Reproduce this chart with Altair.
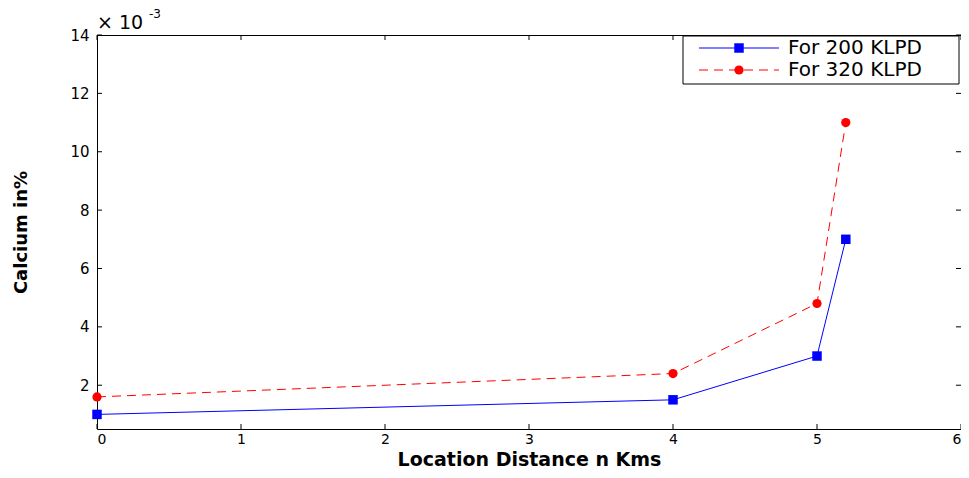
import altair as alt
import pandas as pd

# Data (values in actual units, axis shows x 10^-3)
distance = [0, 4, 5, 5.2]
klpd200 = [0.0010, 0.0015, 0.0030, 0.0070]
klpd320 = [0.0016, 0.0024, 0.0048, 0.0110]
series_names = ["For 200 KLPD", "For 320 KLPD"]
x_ticks = [0, 1, 2, 3, 4, 5, 6]
y_ticks = [0.002, 0.004, 0.006, 0.008, 0.010, 0.012, 0.014]

W, H = 864, 394
FONT = "DejaVu Sans"

df = pd.DataFrame({
    "x": distance * 2,
    "y": klpd200 + klpd320,
    "series": [series_names[0]] * len(distance) + [series_names[1]] * len(distance),
})
df_b = df[df.series == series_names[0]]
df_r = df[df.series == series_names[1]]

xs = alt.Scale(domain=[0, 6], nice=False, zero=False)
ys = alt.Scale(domain=[0.0005, 0.014], nice=False, zero=False)

x_axis = alt.Axis(values=x_ticks, format="d", ticks=False, domain=False, grid=False,
                  labelFont=FONT, labelFontSize=14, labelColor="black", labelPadding=3,
                  title="Location Distance n Kms", titleFont=FONT, titleFontSize=19,
                  titleFontWeight="bold", titleColor="black",
                  titleBaseline="alphabetic", titleY=36)
y_axis = alt.Axis(values=y_ticks, ticks=False, domain=False, grid=False,
                  labelExpr="round(datum.value*1000)",
                  labelFont=FONT, labelFontSize=15, labelColor="black", labelPadding=8,
                  title="Calcium in%", titleFont=FONT, titleFontSize=18,
                  titleFontWeight="bold", titleColor="black", titlePadding=39)

line_b = alt.Chart(df_b).mark_line(color="#0000ff", strokeWidth=1).encode(
    x=alt.X("x:Q", scale=xs, axis=x_axis),
    y=alt.Y("y:Q", scale=ys, axis=y_axis),
)
pts_b = alt.Chart(df_b).mark_point(shape="square", filled=True, color="#0000ff",
                                   size=90, opacity=1).encode(
    x=alt.X("x:Q", scale=xs), y=alt.Y("y:Q", scale=ys))
line_r = alt.Chart(df_r).mark_line(color="#ff0000", strokeWidth=1,
                                   strokeDash=[9, 6]).encode(
    x=alt.X("x:Q", scale=xs), y=alt.Y("y:Q", scale=ys))
pts_r = alt.Chart(df_r).mark_point(shape="circle", filled=True, color="#ff0000",
                                   size=85, opacity=1).encode(
    x=alt.X("x:Q", scale=xs), y=alt.Y("y:Q", scale=ys))

xt = pd.DataFrame({"t": x_ticks})
yt = pd.DataFrame({"t": y_ticks})
tick_bot = alt.Chart(xt).mark_rule(color="black", strokeWidth=1).encode(
    x=alt.X("t:Q", scale=xs), y=alt.value(H), y2=alt.value(H - 5))
tick_top = alt.Chart(xt).mark_rule(color="black", strokeWidth=1).encode(
    x=alt.X("t:Q", scale=xs), y=alt.value(0), y2=alt.value(5))
tick_left = alt.Chart(yt).mark_rule(color="black", strokeWidth=1).encode(
    y=alt.Y("t:Q", scale=ys), x=alt.value(0), x2=alt.value(5))
tick_right = alt.Chart(yt).mark_rule(color="black", strokeWidth=1).encode(
    y=alt.Y("t:Q", scale=ys), x=alt.value(W), x2=alt.value(W - 5))

one = pd.DataFrame({"a": [0]})
exp_main = alt.Chart(one).mark_text(text="× 10", font=FONT, fontSize=19, align="left",
                                    baseline="middle", color="black").encode(
    x=alt.value(0), y=alt.value(-12))
exp_sup = alt.Chart(one).mark_text(text="-3", font=FONT, fontSize=12, align="left",
                                   baseline="middle", color="black").encode(
    x=alt.value(52), y=alt.value(-21))

# Legend
lx0, lx1, ly0, ly1 = 586, 862, 1, 49
leg_box = alt.Chart(one).mark_rect(fill="white", stroke="black", strokeWidth=1).encode(
    x=alt.value(lx0), x2=alt.value(lx1), y=alt.value(ly0), y2=alt.value(ly1))
leg_layers = [leg_box]
legend_styles = [
    dict(color="#0000ff", dash=[1, 0], shape="square", yy=13, size=90),
    dict(color="#ff0000", dash=[9, 6], shape="circle", yy=35, size=85),
]
for name, st in zip(series_names, legend_styles):
    ld = pd.DataFrame({"name": [name]})
    leg_layers.append(alt.Chart(ld).mark_rule(color=st["color"], strokeWidth=1,
                                              strokeDash=st["dash"]).encode(
        x=alt.value(602), x2=alt.value(682), y=alt.value(st["yy"])))
    leg_layers.append(alt.Chart(ld).mark_point(shape=st["shape"], filled=True,
                                               color=st["color"], size=st["size"],
                                               opacity=1).encode(
        x=alt.value(642), y=alt.value(st["yy"])))
    leg_layers.append(alt.Chart(ld).mark_text(font=FONT, fontSize=20, align="left",
                                              baseline="middle", color="black").encode(
        x=alt.value(691), y=alt.value(st["yy"]), text="name:N"))

chart = alt.layer(
    line_b, line_r, pts_b, pts_r,
    tick_bot, tick_top, tick_left, tick_right,
    exp_main, exp_sup, *leg_layers
).properties(
    width=W, height=H,
    autosize=alt.AutoSizeParams(type="none"),
    padding={"left": 89, "top": 27, "right": 0, "bottom": 41},
    background="white",
).configure_view(stroke="black", strokeWidth=1)

chart.save("out.html", embed_options={"renderer": "svg", "actions": False})
